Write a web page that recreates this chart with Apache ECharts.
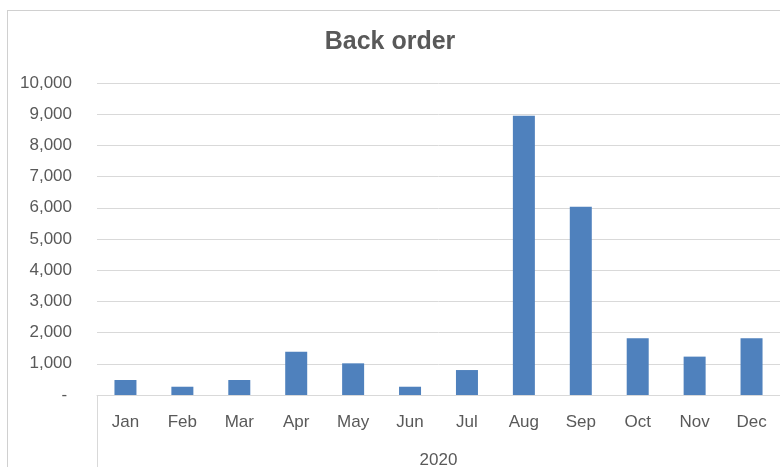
<!DOCTYPE html>
<html lang="en">
<head>
    <meta charset="UTF-8">
    <title>Back order</title>
    <script src="https://cdn.jsdelivr.net/npm/echarts@6/dist/echarts.min.js"></script>
    <style>
        body {
            margin: 0;
            padding: 0;
            background: #ffffff;
            overflow: hidden;
        }
        #chart {
            position: absolute;
            left: 0;
            top: 0;
            width: 780px;
            height: 467px;
        }
        .frame {
            position: absolute;
            left: 7px;
            top: 10px;
            width: 800px;
            height: 480px;
            border-left: 1px solid #d0d0d0;
            border-top: 1px solid #d0d0d0;
            pointer-events: none;
        }
    </style>
</head>
<body>
<div class="frame"></div>
<div id="chart"></div>

<script>
    // data
    const months = ['Jan', 'Feb', 'Mar', 'Apr', 'May', 'Jun', 'Jul', 'Aug', 'Sep', 'Oct', 'Nov', 'Dec'];
    const years = ['2020'];
    const backOrder = [480, 265, 480, 1390, 1015, 265, 800, 8950, 6030, 1820, 1230, 1820];

    const textColor = '#595959';
    const lineColor = '#d9d9d9';
    const font = 'Liberation Sans, Arial, sans-serif';

    const chart = echarts.init(document.getElementById('chart'));

    chart.setOption({
        animation: false,
        title: {
            text: 'Back order',
            left: 'center',
            top: 25,
            textStyle: {
                color: textColor,
                fontFamily: font,
                fontSize: 25,
                fontWeight: 'bold'
            }
        },
        grid: {
            left: 97,
            right: 0,
            top: 83,
            bottom: 72,
            containLabel: false,
            outerBoundsMode: 'none'
        },
        xAxis: [
            {
                type: 'category',
                data: months,
                axisLine: { lineStyle: { color: lineColor } },
                axisTick: { show: false },
                axisLabel: {
                    color: textColor,
                    fontFamily: font,
                    fontSize: 17,
                    margin: 19
                }
            },
            {
                type: 'category',
                data: years,
                position: 'bottom',
                axisLine: { show: false },
                axisTick: {
                    show: true,
                    length: 75,
                    lineStyle: { color: lineColor }
                },
                axisLabel: {
                    color: textColor,
                    fontFamily: font,
                    fontSize: 17,
                    margin: 57
                }
            }
        ],
        yAxis: {
            type: 'value',
            min: 0,
            max: 10000,
            interval: 1000,
            axisLine: { show: false },
            axisTick: { show: false },
            splitLine: { lineStyle: { color: lineColor } },
            axisLabel: {
                color: textColor,
                fontFamily: font,
                fontSize: 17,
                margin: 25,
                formatter: v => v === 0 ? '- ' : v.toLocaleString('en-US')
            }
        },
        series: [
            {
                type: 'bar',
                data: backOrder,
                xAxisIndex: 0,
                barWidth: 22,
                itemStyle: { color: '#4f81bd' }
            }
        ]
    });
</script>
</body>
</html>
